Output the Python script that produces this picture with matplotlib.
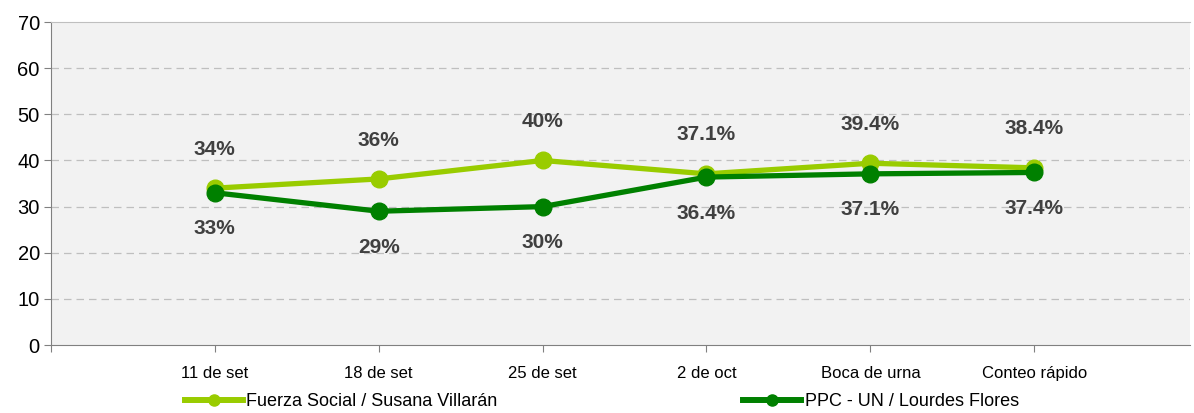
import matplotlib.pyplot as plt
from matplotlib.lines import Line2D

plt.rcParams['font.family'] = ['Liberation Sans', 'DejaVu Sans']

# --- data ---
categories = ['11 de set', '18 de set', '25 de set', '2 de oct', 'Boca de urna', 'Conteo rápido']
fuerza = [34, 36, 40, 37.1, 39.4, 38.4]
ppc = [33, 29, 30, 36.4, 37.1, 37.4]
fuerza_labels = ['34%', '36%', '40%', '37.1%', '39.4%', '38.4%']
ppc_labels = ['33%', '29%', '30%', '36.4%', '37.1%', '37.4%']

light_green = '#99CC00'
dark_green = '#008000'

fig = plt.figure(figsize=(11.94, 4.13), dpi=100)
ax = fig.add_axes([0.0427, 0.1646, 0.9539, 0.782])
ax.set_facecolor('#F2F2F2')

x = list(range(len(categories)))
ax.plot(x, fuerza, color=light_green, lw=3.8, marker='o', ms=12, zorder=3)
ax.plot(x, ppc, color=dark_green, lw=3.8, marker='o', ms=12, zorder=4)

for xi, v, lab in zip(x, fuerza, fuerza_labels):
    ax.annotate(lab, (xi, v), xytext=(0, 28), textcoords='offset points',
                ha='center', va='center', fontsize=15, fontweight='bold', color='#404040')
for xi, v, lab in zip(x, ppc, ppc_labels):
    ax.annotate(lab, (xi, v), xytext=(0, -26), textcoords='offset points',
                ha='center', va='center', fontsize=15, fontweight='bold', color='#404040')

ax.set_xlim(-1, 5.95)
ax.set_ylim(0, 70)
ax.set_yticks(range(0, 71, 10))
ax.set_xticks([-1] + x)
ax.set_xticklabels([''] + categories, fontsize=12)
ax.tick_params(axis='y', labelsize=14.5, length=5, color='#808080', pad=3)
ax.tick_params(axis='x', length=5, color='#808080', pad=10)

for y in range(10, 70, 10):
    ax.axhline(y, color='#BFBFBF', lw=0.9, ls=(0, (6, 4)), zorder=1)

ax.spines['right'].set_visible(False)
ax.spines['top'].set_color('#BFBFBF')
ax.spines['left'].set_color('#808080')
ax.spines['bottom'].set_color('#808080')

handles = [Line2D([], [], color=light_green, lw=4.3, marker='o', ms=8),
           Line2D([], [], color=dark_green, lw=4.3, marker='o', ms=8)]
fig.legend(handles, ['Fuerza Social / Susana Villarán', 'PPC - UN / Lourdes Flores'],
           loc='center left', bbox_to_anchor=(0.155, 0.027), ncol=2, frameon=False,
           fontsize=13, handlelength=3.2, handletextpad=0.2, columnspacing=13.6,
           borderpad=0, borderaxespad=0)

fig.savefig('out.png', dpi=100)
